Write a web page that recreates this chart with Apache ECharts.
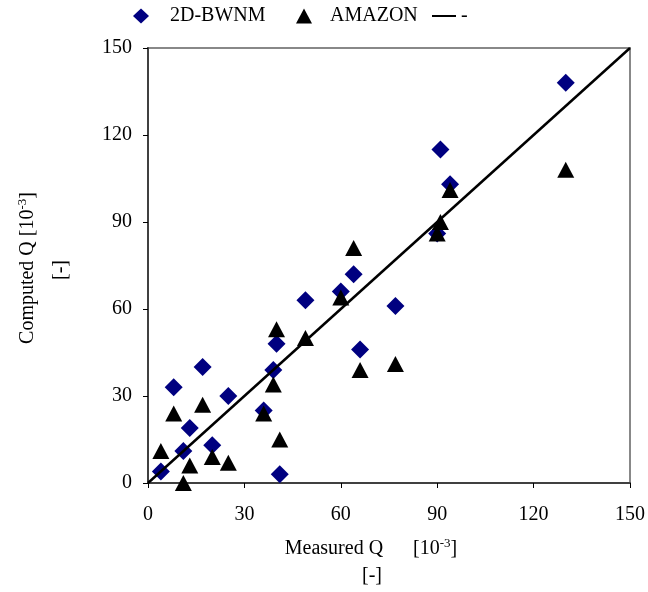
<!DOCTYPE html>
<html>
<head>
<meta charset="utf-8">
<script src="https://cdn.jsdelivr.net/npm/echarts@6/dist/echarts.min.js"></script>
<style>html,body{margin:0;padding:0;background:#fff}#c{width:648px;height:592px}</style>
</head>
<body>
<div id="c"></div>
<script>
var measured = [4, 8, 11, 13, 17, 20, 25, 36, 39, 40, 41, 49, 60, 64, 66, 77, 90, 91, 94, 130];
var bwnm     = [4, 33, 11, 19, 40, 13, 30, 25, 39, 48, 3, 63, 66, 72, 46, 61, 86, 115, 103, 138];
var amazon   = [11, 24, 0, 6, 27, 9, 7, 24, 34, 53, 15, 50, 64, 81, 39, 41, 86, 90, 101, 108];
var lineX = [0, 150];
var lineY = [0, 150];
var ticks = [0, 30, 60, 90, 120, 150];

function pairs(xs, ys) { return xs.map(function (x, i) { return [x, ys[i]]; }); }

var FONT = '"Liberation Serif", "Times New Roman", serif';
var chart = echarts.init(document.getElementById('c'));
var axisCommon = {
  type: 'value', min: ticks[0], max: ticks[ticks.length - 1], interval: 30,
  axisLine: { show: true, lineStyle: { color: '#404040', width: 2 } },
  axisTick: { show: true, length: 5, lineStyle: { color: '#000', width: 1 } },
  splitLine: { show: false },
  axisLabel: { fontFamily: FONT, fontSize: 20, color: '#000' }
};
var rich = {
  n: { fontFamily: FONT, fontSize: 20, color: '#000', lineHeight: 22, verticalAlign: 'bottom' },
  s: { fontFamily: FONT, fontSize: 13, color: '#000', lineHeight: 22, verticalAlign: 'top' }
};
chart.setOption({
  animation: false,
  backgroundColor: '#fff',
  grid: { left: 148, top: 48, width: 482, height: 435, show: true, borderColor: '#888', borderWidth: 2, containLabel: false },
  xAxis: Object.assign({}, axisCommon, { axisLabel: Object.assign({}, axisCommon.axisLabel, { margin: 22 }) }),
  yAxis: Object.assign({}, axisCommon, { axisLabel: Object.assign({}, axisCommon.axisLabel, { margin: 16 }) }),
  legend: [
    { data: ['2D-BWNM'], left: 133, top: 6, padding: 0, itemWidth: 16, itemHeight: 15, itemGap: 0,
      textStyle: { fontFamily: FONT, fontSize: 20, color: '#000', padding: [0, 0, 0, 16] } },
    { data: ['AMAZON'], left: 296, top: 6, padding: 0, itemWidth: 16, itemHeight: 15, itemGap: 0,
      textStyle: { fontFamily: FONT, fontSize: 20, color: '#000', padding: [0, 0, 0, 13] } },
    { data: [{ name: '-', icon: 'rect' }], left: 432, top: 6, padding: 0, itemWidth: 24, itemHeight: 2, itemGap: 0,
      textStyle: { fontFamily: FONT, fontSize: 20, color: '#000', padding: [0, 0, 0, 0] } }
  ],
  series: [
    { name: '2D-BWNM', type: 'scatter', symbol: 'diamond', symbolSize: [18, 18],
      itemStyle: { color: '#000080', opacity: 1 }, data: pairs(measured, bwnm), z: 2 },
    { name: 'AMAZON', type: 'scatter', symbol: 'triangle', symbolSize: [17, 16],
      itemStyle: { color: '#000', opacity: 1 }, data: pairs(measured, amazon), z: 3 },
    { name: '-', type: 'line', symbol: 'none', lineStyle: { color: '#000', width: 2.5 },
      itemStyle: { color: '#000' }, data: pairs(lineX, lineY), z: 4 }
  ],
  graphic: [
    { type: 'text', x: 371, y: 548, style: { text: '{n|Measured Q      [10}{s|-3}{n|]}', rich: rich, align: 'center', verticalAlign: 'middle' } },
    { type: 'text', x: 372, y: 575, style: { text: '{n|[-]}', rich: rich, align: 'center', verticalAlign: 'middle' } },
    { type: 'text', x: 27, y: 268, rotation: Math.PI / 2, style: { text: '{n|Computed Q [10}{s|-3}{n|]}', rich: rich, align: 'center', verticalAlign: 'middle' } },
    { type: 'text', x: 60, y: 270, rotation: Math.PI / 2, style: { text: '{n|[-]}', rich: rich, align: 'center', verticalAlign: 'middle' } }
  ]
});
</script>
</body>
</html>
